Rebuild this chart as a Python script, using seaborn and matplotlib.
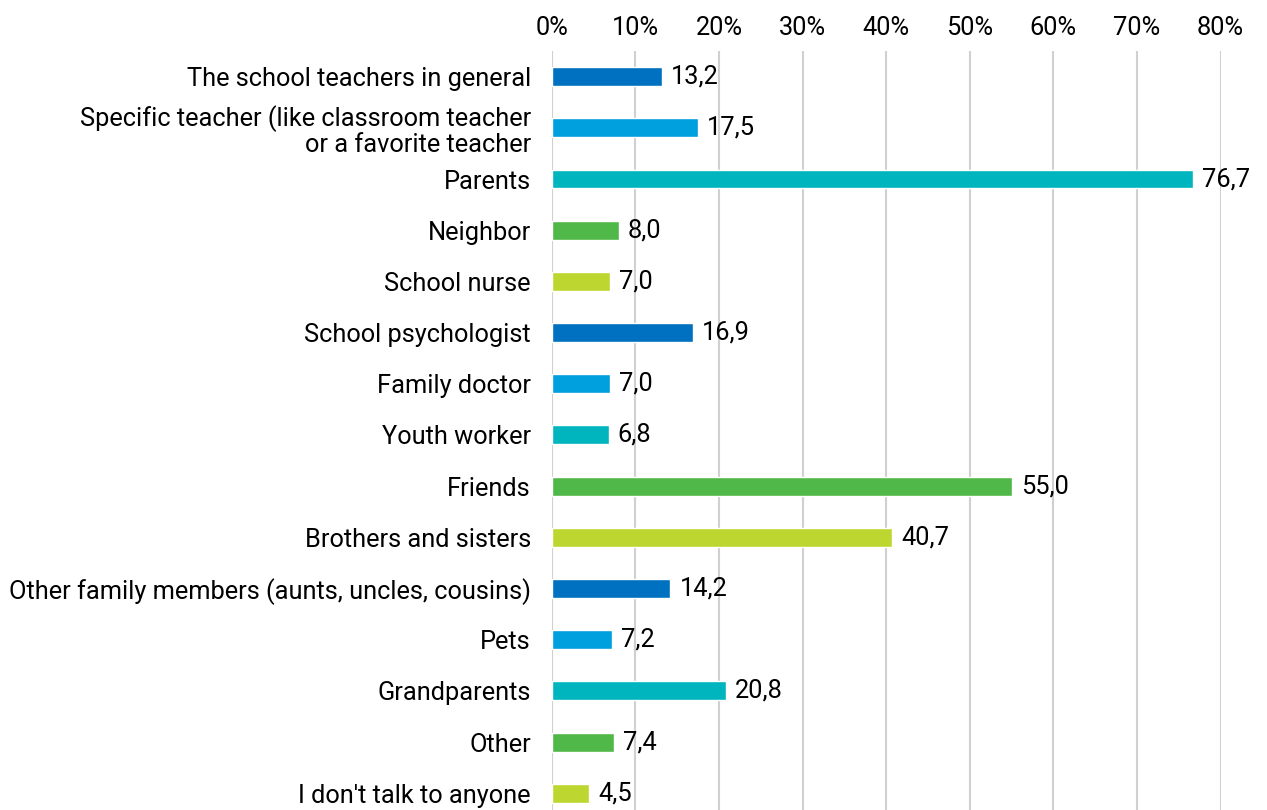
import matplotlib
matplotlib.use("Agg")
import matplotlib.pyplot as plt
import seaborn as sns
import pandas as pd
from matplotlib.ticker import FuncFormatter

categories = [
    "The school teachers in general",
    "Specific teacher (like classroom teacher\nor a favorite teacher",
    "Parents",
    "Neighbor",
    "School nurse",
    "School psychologist",
    "Family doctor",
    "Youth worker",
    "Friends",
    "Brothers and sisters",
    "Other family members (aunts, uncles, cousins)",
    "Pets",
    "Grandparents",
    "Other",
    "I don't talk to anyone",
]
values = [13.2, 17.5, 76.7, 8.0, 7.0, 16.9, 7.0, 6.8, 55.0, 40.7, 14.2, 7.2, 20.8, 7.4, 4.5]
x_ticks = [0, 10, 20, 30, 40, 50, 60, 70, 80]

cycle = ["#0070C0", "#009FDD", "#00B5BD", "#50B848", "#BED730"]
palette = [cycle[i % len(cycle)] for i in range(len(categories))]

df = pd.DataFrame({"who": categories, "pct": values})

sns.set_theme(style="white")
plt.rcParams["font.family"] = ["Roboto", "DejaVu Sans"]

FS = 18.3

fig = plt.figure(figsize=(12.67, 8.10), dpi=100)
ax = fig.add_axes([0.4355, -0.011, 0.9633 - 0.4355, 0.948])

sns.barplot(data=df, x="pct", y="who", hue="who", palette=palette,
            order=categories, hue_order=categories, legend=False,
            width=0.37, saturation=1, ax=ax)

ax.set_xlim(0, 80)
ax.set_ylim(len(categories) - 0.5, -0.5)
ax.set_xticks(x_ticks)
ax.xaxis.set_major_formatter(FuncFormatter(lambda v, _: f"{v:.0f}%"))
ax.xaxis.tick_top()
ax.tick_params(axis="x", length=0, pad=8, labelsize=FS, colors="black")
ax.tick_params(axis="y", length=0, pad=15, labelsize=FS, colors="black")
for lbl in ax.get_yticklabels():
    lbl.set_linespacing(1.05)
    lbl.set_y(lbl.get_position()[1])
ax.set_xlabel("")
ax.set_ylabel("")
ax.grid(axis="x", color="#D0D0D0", linewidth=1.5)
ax.set_axisbelow(True)
for s in ax.spines.values():
    s.set_visible(False)

for i, v in enumerate(values):
    ax.text(v + 1.1, i, f"{v:.1f}".replace(".", ","), va="center", ha="left",
            fontsize=FS, color="black")

fig.savefig("out.png", dpi=100)
